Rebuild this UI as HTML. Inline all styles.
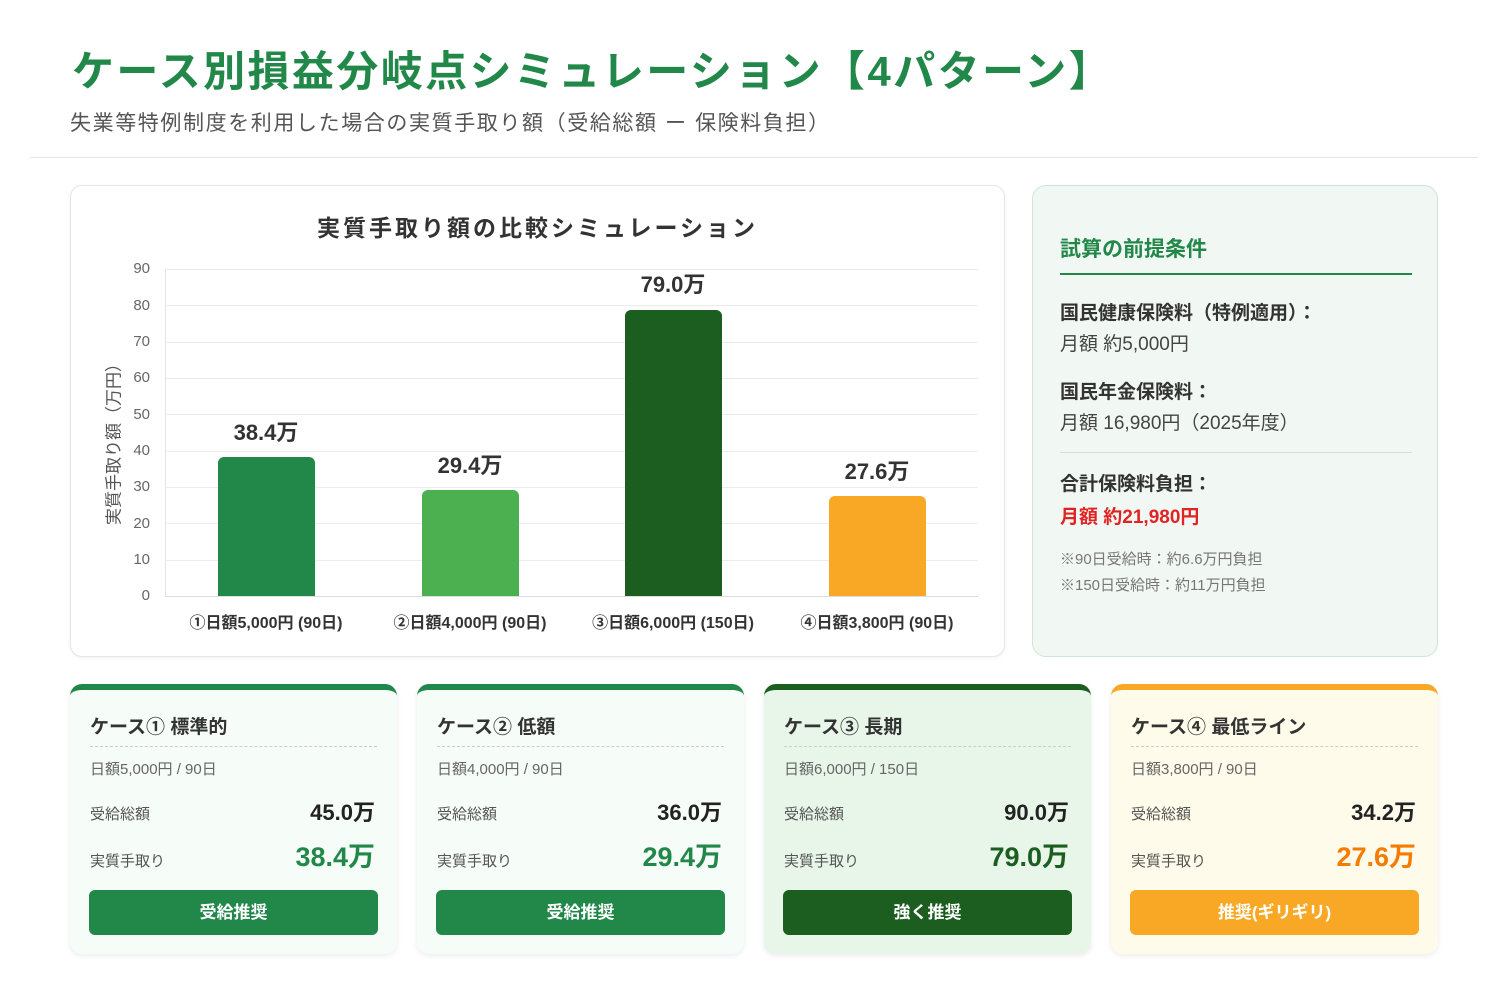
<!DOCTYPE html>
<html><head><meta charset="utf-8"><style>
*{margin:0;padding:0;box-sizing:border-box}
body{width:1494px;height:1000px;background:#fff;font-family:"Liberation Sans","Noto Sans CJK JP",sans-serif;position:relative;overflow:hidden;color:#333}
.a{position:absolute;white-space:nowrap}
h1{position:absolute;left:72px;top:38px;font-size:42px;font-weight:bold;color:#22884a;letter-spacing:2.4px;white-space:nowrap}
.sub{left:70px;top:107px;font-size:21px;color:#555;letter-spacing:1.6px}
.panel{position:absolute;left:70px;top:185px;width:935px;height:472px;border:1px solid #e6e6e6;border-radius:12px;box-shadow:0 1px 4px rgba(0,0,0,.06);background:#fff}
.side{position:absolute;left:1032px;top:185px;width:406px;height:472px;border:1px solid #cfe5d5;border-radius:14px;background:#f1f7f3}
.grid{position:absolute;left:165px;width:813px;height:1px;background:#ececec}
.yl{position:absolute;width:40px;text-align:right;left:110px;font-size:15px;color:#666}
.bar{position:absolute;width:97px;border-radius:6px 6px 0 0}
.bl{position:absolute;width:160px;text-align:center;font-size:22px;font-weight:bold;color:#333}
.xl{position:absolute;width:200px;text-align:center;font-size:16px;font-weight:bold;color:#333;top:609px}
.card{position:absolute;top:684px;width:327px;height:270px;border-radius:12px;border-top:6px solid;box-shadow:0 2px 6px rgba(0,0,0,.08)}
.card .t{position:absolute;left:20px;top:22px;font-size:19px;font-weight:bold;color:#333}
.card .ln{position:absolute;left:20px;right:20px;top:56px;border-top:1px dashed #ccc}
.card .d{position:absolute;left:20px;top:68px;font-size:15px;color:#666}
.card .k1{position:absolute;left:20px;top:113px;font-size:15px;color:#555}
.card .v1{position:absolute;right:22px;top:105px;font-size:22px;font-weight:bold;color:#222}
.card .k2{position:absolute;left:20px;top:160px;font-size:15px;color:#555}
.card .v2{position:absolute;right:22px;top:145px;font-size:27px;font-weight:bold}
.card .b{position:absolute;left:19px;right:19px;top:200px;height:45px;border-radius:6px;color:#fff;font-size:17px;font-weight:bold;text-align:center;line-height:45px}
</style></head><body>
<h1>ケース別損益分岐点シミュレーション【4パターン】</h1>
<div class="a sub">失業等特例制度を利用した場合の実質手取り額（受給総額 ー 保険料負担）</div>
<div class="a" style="left:30px;top:157px;width:1448px;height:1px;background:#e4e4e4"></div>

<div class="panel"></div>
<div class="a" style="left:70px;width:935px;top:209px;text-align:center;font-size:23px;font-weight:bold;color:#333;letter-spacing:3px">実質手取り額の比較シミュレーション</div>
<div class="grid" style="top:269px"></div><div class="grid" style="top:305px"></div><div class="grid" style="top:342px"></div><div class="grid" style="top:378px"></div><div class="grid" style="top:414px"></div><div class="grid" style="top:451px"></div><div class="grid" style="top:487px"></div><div class="grid" style="top:523px"></div><div class="grid" style="top:560px"></div>
<div class="grid" style="top:596px;background:#ddd"></div>
<div class="a" style="left:165px;top:269px;width:1px;height:327px;background:#e4e4e4"></div>
<div class="yl" style="top:260px">90</div><div class="yl" style="top:297px">80</div><div class="yl" style="top:333px">70</div><div class="yl" style="top:369px">60</div><div class="yl" style="top:406px">50</div><div class="yl" style="top:442px">40</div><div class="yl" style="top:478px">30</div><div class="yl" style="top:515px">20</div><div class="yl" style="top:551px">10</div><div class="yl" style="top:587px">0</div>
<div class="a" style="left:112px;top:440px;transform:translate(-50%,-50%) rotate(-90deg);font-size:17px;color:#555">実質手取り額（万円）</div>
<div class="bar" style="left:218px;top:457px;height:139px;background:#22884a"></div>
<div class="bar" style="left:422px;top:490px;height:106px;background:#4caf50"></div>
<div class="bar" style="left:625px;top:310px;height:286px;background:#1b5e20"></div>
<div class="bar" style="left:829px;top:496px;height:100px;background:#f9a825"></div>
<div class="bl" style="left:186px;top:415px">38.4万</div>
<div class="bl" style="left:390px;top:448px">29.4万</div>
<div class="bl" style="left:593px;top:267px">79.0万</div>
<div class="bl" style="left:797px;top:454px">27.6万</div>
<div class="xl" style="left:166px">①日額5,000円 (90日)</div>
<div class="xl" style="left:370px">②日額4,000円 (90日)</div>
<div class="xl" style="left:573px">③日額6,000円 (150日)</div>
<div class="xl" style="left:777px">④日額3,800円 (90日)</div>

<div class="side"></div>
<div class="a" style="left:1060px;top:233px;font-size:21px;font-weight:bold;color:#22884a">試算の前提条件</div>
<div class="a" style="left:1060px;top:273px;width:352px;height:2px;background:#22884a"></div>
<div class="a" style="left:1060px;top:298px;font-size:19px;font-weight:bold;color:#333">国民健康保険料（特例適用）：</div>
<div class="a" style="left:1060px;top:329px;font-size:19px;color:#444">月額 約5,000円</div>
<div class="a" style="left:1060px;top:377px;font-size:19px;font-weight:bold;color:#333">国民年金保険料：</div>
<div class="a" style="left:1060px;top:408px;font-size:19px;color:#444">月額 16,980円（2025年度）</div>
<div class="a" style="left:1060px;top:452px;width:352px;height:1px;background:#dcdcdc"></div>
<div class="a" style="left:1060px;top:469px;font-size:19px;font-weight:bold;color:#333">合計保険料負担：</div>
<div class="a" style="left:1060px;top:502px;font-size:19px;font-weight:bold;color:#e02424">月額 約21,980円</div>
<div class="a" style="left:1060px;top:548px;font-size:15px;color:#777">※90日受給時：約6.6万円負担</div>
<div class="a" style="left:1060px;top:574px;font-size:15px;color:#777">※150日受給時：約11万円負担</div>

<div class="card" style="left:70px;border-color:#22884a;background:#f6fcf7"><div class="t">ケース① 標準的</div><div class="ln"></div><div class="d">日額5,000円 / 90日</div><div class="k1">受給総額</div><div class="v1">45.0万</div><div class="k2">実質手取り</div><div class="v2" style="color:#22884a">38.4万</div><div class="b" style="background:#22884a">受給推奨</div></div>
<div class="card" style="left:417px;border-color:#22884a;background:#f6fcf7"><div class="t">ケース② 低額</div><div class="ln"></div><div class="d">日額4,000円 / 90日</div><div class="k1">受給総額</div><div class="v1">36.0万</div><div class="k2">実質手取り</div><div class="v2" style="color:#22884a">29.4万</div><div class="b" style="background:#22884a">受給推奨</div></div>
<div class="card" style="left:764px;border-color:#1b5e20;background:#e8f5e9"><div class="t">ケース③ 長期</div><div class="ln"></div><div class="d">日額6,000円 / 150日</div><div class="k1">受給総額</div><div class="v1">90.0万</div><div class="k2">実質手取り</div><div class="v2" style="color:#1b5e20">79.0万</div><div class="b" style="background:#1b5e20">強く推奨</div></div>
<div class="card" style="left:1111px;border-color:#f9a825;background:#fffbea"><div class="t">ケース④ 最低ライン</div><div class="ln"></div><div class="d">日額3,800円 / 90日</div><div class="k1">受給総額</div><div class="v1">34.2万</div><div class="k2">実質手取り</div><div class="v2" style="color:#f57c00">27.6万</div><div class="b" style="background:#f9a825">推奨(ギリギリ)</div></div>
</body></html>
